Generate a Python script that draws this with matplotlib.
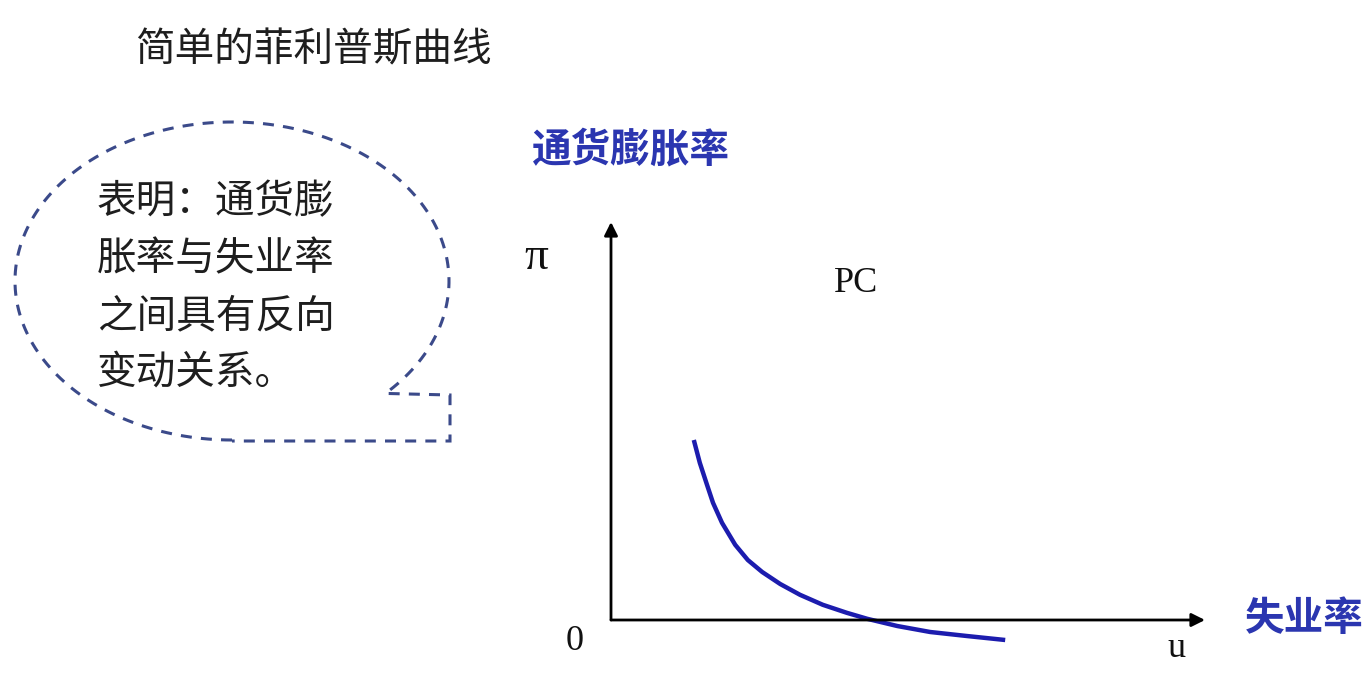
import numpy as np
import matplotlib
matplotlib.use("Agg")
import matplotlib.pyplot as plt
from matplotlib.path import Path
from matplotlib.patches import PathPatch

plt.rcParams['font.family'] = ['Noto Sans CJK SC', 'DejaVu Sans']

# Phillips curve (u, pi)
u_vals = [1.38, 1.48, 1.60, 1.70, 1.85, 2.07, 2.28, 2.52, 2.82, 3.15,
          3.53, 3.93, 4.27, 4.77, 5.32, 5.93, 6.57]
pi_vals = [4.50, 3.93, 3.38, 2.93, 2.43, 1.88, 1.50, 1.20, 0.90, 0.63,
           0.38, 0.18, 0.03, -0.15, -0.30, -0.40, -0.50]

title = "简单的菲利普斯曲线"
bubble_lines = ["表明：通货膨", "胀率与失业率", "之间具有反向", "变动关系。"]
y_label = "通货膨胀率"
x_label = "失业率"

fig = plt.figure(figsize=(13.62, 6.76), dpi=100)

# background axes in pixel coordinates for the callout and texts
ax = fig.add_axes([0, 0, 1, 1])
ax.set_xlim(0, 1362)
ax.set_ylim(676, 0)
ax.axis("off")

# speech bubble: ellipse with a square tail at lower right
cx, cy, a, b = 232, 281, 217, 159
t = np.radians(np.linspace(90, 405, 200))
ex = cx + a * np.cos(t)
ey = cy + b * np.sin(t)
verts = list(zip(ex, ey)) + [(450, 395), (450, 441), (cx, 441)]
bubble = PathPatch(Path(verts), fill=False, edgecolor="#3b4a8a", lw=2.2,
                   linestyle=(0, (3.6, 3.0)))
ax.add_patch(bubble)

ax.text(135, 50, title, fontsize=28.5, color="#1e1e1e", va="center", ha="left")
for i, line in enumerate(bubble_lines):
    ax.text(97, 202 + i * 57, line, fontsize=28.5, color="#1e1e1e",
            va="center", ha="left")

ax.text(532, 150, y_label, fontsize=28.5, color="#2b36b0", va="center",
        ha="left", fontweight="bold")
ax.text(1245, 618, x_label, fontsize=28.5, color="#2b36b0", va="center",
        ha="left", fontweight="bold")

# graph axes: origin at pixel (611, 620), 60 px per u unit, 40 px per pi unit
gx = fig.add_axes([0, 0, 1, 1], facecolor="none")
gx.set_xlim(-611 / 60, (1362 - 611) / 60)
gx.set_ylim((620 - 676) / 40, 620 / 40)
gx.axis("off")

arrow = dict(arrowstyle="-|>", lw=2, color="black", mutation_scale=20,
             shrinkA=0, shrinkB=0)
gx.annotate("", xy=(0, 9.95), xytext=(0, 0), arrowprops=arrow)
gx.annotate("", xy=(9.9, 0), xytext=(0, 0), arrowprops=arrow)

gx.plot(u_vals, pi_vals, color="#1c1cae", lw=3.2, solid_capstyle="butt",
        solid_joinstyle="round")

serif = "Liberation Serif"
gx.text(-1.25, 9.05, "π", family=serif, fontsize=34, ha="center",
        va="center", color="#111111")
gx.text(4.08, 8.42, "PC", family=serif, fontsize=26, ha="center",
        va="center", color="#111111")
gx.text(-0.6, -0.55, "0", family=serif, fontsize=26, ha="center",
        va="center", color="#111111")
gx.text(9.42, -0.72, "u", family=serif, fontsize=26, ha="center",
        va="center", color="#111111")

fig.savefig("out.png", dpi=100)
